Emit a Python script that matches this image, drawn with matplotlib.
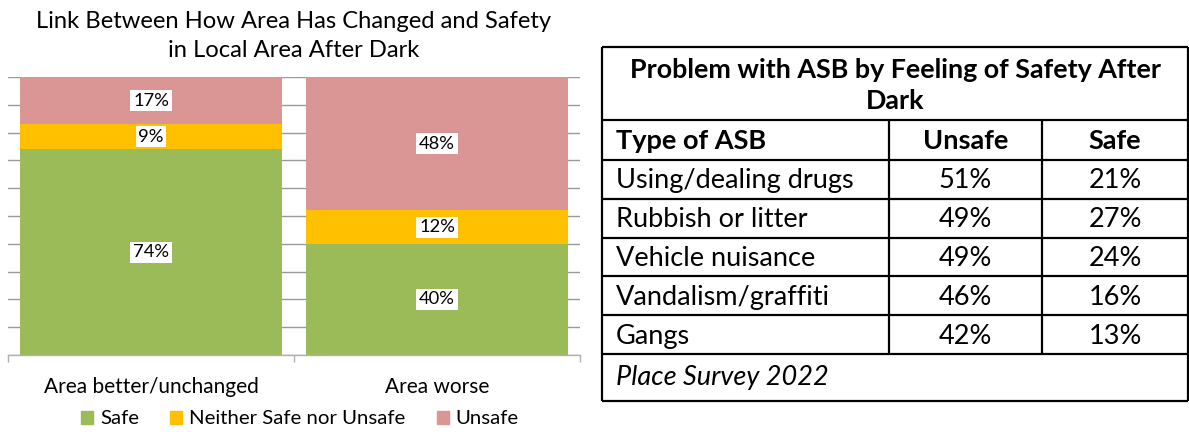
import matplotlib
matplotlib.use("Agg")
import matplotlib.pyplot as plt
from matplotlib.patches import Patch

# ---------------- data ----------------
categories = ["Area better/unchanged", "Area worse"]
safe = [74, 40]
neither = [9, 12]
unsafe = [17, 48]
series_names = ["Safe", "Neither Safe nor Unsafe", "Unsafe"]
series_colors = ["#9BBB59", "#FFC000", "#D99694"]
chart_title = "Link Between How Area Has Changed and Safety\nin Local Area After Dark"

table_title = "Problem with ASB by Feeling of Safety After\nDark"
table_header = ["Type of ASB", "Unsafe", "Safe"]
asb_types = ["Using/dealing drugs", "Rubbish or litter", "Vehicle nuisance",
             "Vandalism/graffiti", "Gangs"]
asb_unsafe = [51, 49, 49, 46, 42]
asb_safe = [21, 27, 24, 16, 13]
table_note = "Place Survey 2022"

# ---------------- figure ----------------
plt.rcParams["font.family"] = ["Lato", "DejaVu Sans"]
W, H = 1189, 432
fig = plt.figure(figsize=(W / 100, H / 100), dpi=100)
renderer = fig.canvas.get_renderer()


def fit(text, px, **kw):
    t = fig.text(0, 0, text, fontsize=20, **kw)
    w = t.get_window_extent(renderer).width
    t.remove()
    return 20 * px / w


fs_title = fit("Link Between How Area Has Changed and Safety", 518)
fs_tick = fit("Area better/unchanged", 215)
fs_leg = fit("Neither Safe nor Unsafe", 217)
fs_lbl = fs_tick * 0.88
fs_ttitle = fit("Problem with ASB by Feeling of Safety After", 533, fontweight="bold")
fs_tbody = fit("Using/dealing drugs", 238)

# ---------------- table (pixel coordinates) ----------------
axt = fig.add_axes([0, 0, 1, 1])
axt.set_xlim(0, W)
axt.set_ylim(H, 0)
axt.axis("off")

col_x = [602, 889, 1042, 1188]
top_y, head_y, body_y, row_h, bottom_y = 47, 120, 160, 38.8, 401
n = len(asb_types)
lw = 1.6
hl = [top_y, head_y] + [body_y + row_h * k for k in range(n + 1)] + [bottom_y]
axt.hlines(hl, col_x[0], col_x[-1], color="black", lw=lw)
axt.vlines([col_x[0], col_x[-1]], top_y, bottom_y, color="black", lw=lw)
axt.vlines(col_x[1:3], head_y, body_y + row_h * n, color="black", lw=lw)

axt.text((col_x[0] + col_x[-1]) / 2, (top_y + head_y) / 2 + 2, table_title,
         ha="center", va="center", fontsize=fs_ttitle, fontweight="bold",
         linespacing=1.35)
hy = (head_y + body_y) / 2 + 1
axt.text(616, hy, table_header[0], ha="left", va="center", fontsize=fs_tbody, fontweight="bold")
axt.text((col_x[1] + col_x[2]) / 2, hy, table_header[1], ha="center", va="center",
         fontsize=fs_tbody, fontweight="bold")
axt.text((col_x[2] + col_x[3]) / 2, hy, table_header[2], ha="center", va="center",
         fontsize=fs_tbody, fontweight="bold")
for i, (lab, u, s) in enumerate(zip(asb_types, asb_unsafe, asb_safe)):
    y = body_y + row_h * (i + 0.5) + 1.5
    axt.text(616, y, lab, ha="left", va="center", fontsize=fs_tbody)
    axt.text((col_x[1] + col_x[2]) / 2, y, f"{u}%", ha="center", va="center", fontsize=fs_tbody)
    axt.text((col_x[2] + col_x[3]) / 2, y, f"{s}%", ha="center", va="center", fontsize=fs_tbody)
axt.text(616, (body_y + row_h * n + bottom_y) / 2, table_note, ha="left", va="center",
         fontsize=fs_tbody, fontstyle="italic")

# ---------------- stacked bar chart ----------------
ax = fig.add_axes([8 / W, (H - 355) / H, 572 / W, 278 / H])
x = list(range(len(categories)))
bw = 0.916
bottoms = [0] * len(x)
for vals, name, col in zip([safe, neither, unsafe], series_names, series_colors):
    ax.bar(x, vals, bw, bottom=bottoms, color=col, label=name, zorder=2)
    for xi, v, b in zip(x, vals, bottoms):
        ax.text(xi, b + v / 2, f"{v}%", ha="center", va="center", fontsize=fs_lbl,
                zorder=4, bbox=dict(boxstyle="square,pad=0.14", fc="white", ec="none"))
    bottoms = [b + v for b, v in zip(bottoms, vals)]

ax.set_xlim(-0.5, len(x) - 0.5)
ax.set_ylim(0, 100)
ax.set_yticks(range(0, 101, 10))
ax.yaxis.grid(True, color="#999999", lw=1.0, zorder=0)
ax.tick_params(axis="y", length=0, labelleft=False)
ax.set_xticks(x, categories, fontsize=fs_tick)
ax.set_xticks([i - 0.5 for i in range(len(x) + 1)], minor=True)
ax.tick_params(axis="x", which="major", length=0, pad=16)
ax.tick_params(axis="x", which="minor", length=5, color="#b0b0b0", width=1)
for sp in ["left", "right", "top"]:
    ax.spines[sp].set_visible(False)
ax.spines["bottom"].set_color("#b0b0b0")
ax.spines["bottom"].set_linewidth(1.0)
ax.set_axisbelow(True)
ax.patch.set_alpha(0)

fig.text(294 / W, 1 - 36 / H, chart_title, ha="center", va="center",
         fontsize=fs_title, linespacing=1.45)

handles = [Patch(color=c, label=nm) for nm, c in zip(series_names, series_colors)]
fpx = fs_leg * 100 / 72
fig.legend(handles=handles, loc="center", bbox_to_anchor=(300 / W, 1 - 419 / H),
           ncol=3, frameon=False, fontsize=fs_leg,
           handlelength=12 / fpx, handleheight=12 / fpx, handletextpad=7 / fpx,
           columnspacing=31 / fpx, borderpad=0, borderaxespad=0)

fig.savefig("out.png", dpi=100)
